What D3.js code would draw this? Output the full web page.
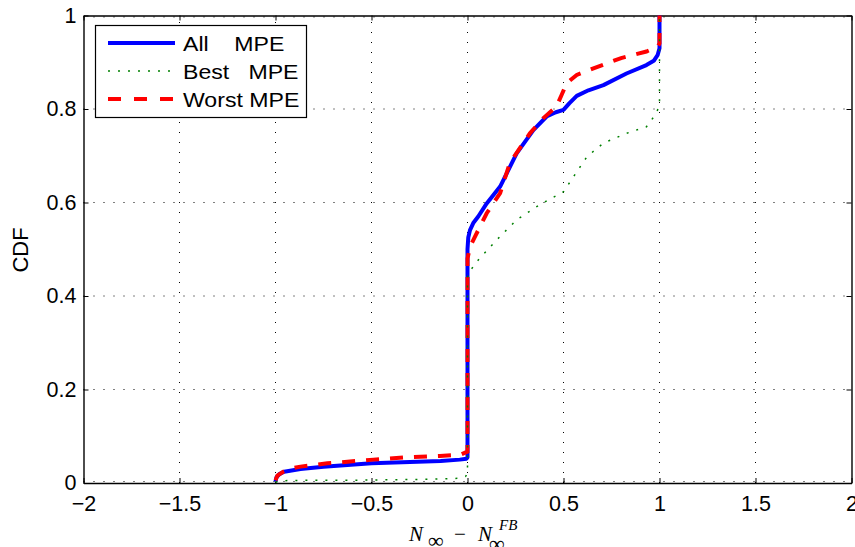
<!DOCTYPE html>
<html><head><meta charset="utf-8">
<script src="https://cdn.jsdelivr.net/npm/d3@7"></script>
<style>body{margin:0;background:#fff}svg{display:block}</style>
</head><body>
<svg id="c" width="855" height="547"></svg>
<script>
// Data (x = N_inf - N_inf^FB, y = CDF)
const allX   = [-1, -0.995, -0.98, -0.955, -0.87, -0.75, -0.5, -0.3, -0.14, -0.04, -0.005, 0, 0, 0.004, 0.013, 0.03, 0.056, 0.1, 0.17, 0.256, 0.343, 0.412, 0.46, 0.5, 0.53, 0.569, 0.63, 0.708, 0.828, 0.932, 0.97, 0.99, 1, 1];
const allY   = [0.003, 0.012, 0.019, 0.024, 0.03, 0.035, 0.042, 0.045, 0.047, 0.05, 0.052, 0.055, 0.50, 0.525, 0.541, 0.556, 0.57, 0.598, 0.634, 0.705, 0.755, 0.784, 0.793, 0.798, 0.812, 0.828, 0.84, 0.851, 0.876, 0.894, 0.903, 0.915, 0.93, 1];
const bestX  = [-1, -0.95, -0.8, -0.6, -0.4, -0.2, -0.05, -0.01, 0, 0, 0.004, 0.056, 0.152, 0.256, 0.375, 0.5, 0.552, 0.622, 0.708, 0.828, 0.932, 0.984, 1, 1];
const bestY  = [0.002, 0.005, 0.006, 0.006, 0.007, 0.008, 0.01, 0.014, 0.02, 0.44, 0.449, 0.477, 0.52, 0.563, 0.595, 0.623, 0.655, 0.698, 0.727, 0.748, 0.762, 0.791, 0.81, 1];
const worstX = [-1, -0.99, -0.96, -0.92, -0.87, -0.73, -0.49, -0.32, -0.144, -0.04, 0, 0, 0.013, 0.039, 0.1, 0.17, 0.22, 0.325, 0.394, 0.463, 0.49, 0.516, 0.569, 0.656, 0.8, 0.932, 0.99, 1, 1];
const worstY = [0.006, 0.016, 0.024, 0.031, 0.035, 0.042, 0.05, 0.055, 0.058, 0.06, 0.067, 0.48, 0.505, 0.527, 0.577, 0.62, 0.684, 0.748, 0.78, 0.805, 0.83, 0.855, 0.873, 0.887, 0.909, 0.923, 0.933, 0.94, 1];
const xTicks = [-2, -1.5, -1, -0.5, 0, 0.5, 1, 1.5, 2];
const yTicks = [0, 0.2, 0.4, 0.6, 0.8, 1];
const legendLabels = ["All    MPE", "Best   MPE", "Worst MPE"];

const svg = d3.select("#c");
const L = 83.5, R = 851.5, T = 15.5, B = 483;
const x = d3.scaleLinear().domain([-2, 2]).range([L, R]);
const y = d3.scaleLinear().domain([0, 1]).range([B, T]);
const font = "'Liberation Sans', Arial, Helvetica, sans-serif";
const fmt = d => (d === 0 ? "0" : (d < 0 ? "\u2212" + String(Math.abs(d)) : String(d)));

// grid
const grid = svg.append("g");
grid.selectAll("line.gx").data(xTicks.slice(1, -1)).join("line")
  .attr("x1", d => x(d)).attr("x2", d => x(d)).attr("y1", B).attr("y2", T)
  .attr("stroke", "#000").attr("stroke-width", 1).attr("stroke-dasharray", "1,9");
grid.selectAll("line.gy").data(yTicks.slice(1, -1)).join("line")
  .attr("y1", d => y(d)).attr("y2", d => y(d)).attr("x1", L).attr("x2", R)
  .attr("stroke", "#000").attr("stroke-width", 1).attr("stroke-dasharray", "1,9");
grid.append("line").attr("x1", L).attr("x2", R).attr("y1", y(0)-1.5).attr("y2", y(0)-1.5)
  .attr("stroke", "#000").attr("stroke-dasharray", "1,9");
grid.append("line").attr("x1", L).attr("x2", R).attr("y1", y(1)+1.5).attr("y2", y(1)+1.5)
  .attr("stroke", "#000").attr("stroke-dasharray", "1,9");

// axes
const axB = svg.append("g").attr("transform", `translate(0,${B})`)
  .call(d3.axisBottom(x).tickValues(xTicks).tickFormat(fmt).tickSizeInner(-5).tickSizeOuter(0).tickPadding(13));
const axT = svg.append("g").attr("transform", `translate(0,${T})`)
  .call(d3.axisTop(x).tickValues(xTicks).tickFormat("").tickSizeInner(-5).tickSizeOuter(0));
const axL = svg.append("g").attr("transform", `translate(${L},0)`)
  .call(d3.axisLeft(y).tickValues(yTicks).tickFormat(d => String(d)).tickSizeInner(-5).tickSizeOuter(0).tickPadding(7));
const axR = svg.append("g").attr("transform", `translate(${R},0)`)
  .call(d3.axisRight(y).tickValues(yTicks).tickFormat("").tickSizeInner(-5).tickSizeOuter(0));
[axB, axT, axL, axR].forEach(a => {
  a.selectAll("path").attr("stroke", "#000").attr("stroke-width", 1.4);
  a.selectAll("line").attr("stroke", "#000").attr("stroke-width", 1);
  a.selectAll("text").attr("font-family", font).attr("font-size", 21.5).attr("fill", "#000");
});
axB.selectAll("text").attr("dy", "0.71em");

// curves
const line = d3.line().x(d => x(d[0])).y(d => y(d[1]));
const zip = (a, b) => a.map((v, i) => [v, b[i]]);
svg.append("path").datum(zip(allX, allY)).attr("d", line)
  .attr("fill", "none").attr("stroke", "#0000ff").attr("stroke-width", 4).attr("stroke-linejoin", "round");
svg.append("path").datum(zip(worstX, worstY)).attr("d", line)
  .attr("fill", "none").attr("stroke", "#ff0000").attr("stroke-width", 4).attr("stroke-dasharray", "13,11");
svg.append("path").datum(zip(bestX, bestY)).attr("d", line)
  .attr("fill", "none").attr("stroke", "#008000").attr("stroke-width", 1.5).attr("stroke-dasharray", "2,8");

// legend
const lg = svg.append("g");
lg.append("rect").attr("x", 95.5).attr("y", 25.5).attr("width", 211).attr("height", 92)
  .attr("fill", "#fff").attr("stroke", "#000").attr("stroke-width", 1.2);
const styles = [
  {c: "#0000ff", w: 4, d: null},
  {c: "#008000", w: 1.5, d: "2,8"},
  {c: "#ff0000", w: 4, d: "13,13"}
];
const rowsY = [43, 71, 99];
legendLabels.forEach((t, i) => {
  lg.append("line").attr("x1", 108).attr("x2", 175).attr("y1", rowsY[i]).attr("y2", rowsY[i])
    .attr("stroke", styles[i].c).attr("stroke-width", styles[i].w).attr("stroke-dasharray", styles[i].d);
  lg.append("text").attr("transform", `translate(183,${rowsY[i]}) scale(1.1,1)`).attr("dy", "0.36em")
    .attr("font-family", font).attr("font-size", 21)
    .attr("xml:space", "preserve").style("white-space", "pre").text(t);
});

// axis labels
svg.append("text").attr("transform", "translate(28,250) rotate(-90)")
  .attr("text-anchor", "middle").attr("font-family", font).attr("font-size", 22).text("CDF");
const serif = "'Liberation Serif', 'DejaVu Serif', serif";
const xl = svg.append("text").attr("y", 541).attr("font-family", serif).attr("font-size", 21);
xl.append("tspan").attr("x", 409).attr("font-style", "italic").text("N");
xl.append("tspan").attr("x", 428).attr("y", 548).attr("font-size", 22).text("\u221E");
xl.append("tspan").attr("x", 454).attr("y", 541).text("\u2212");
xl.append("tspan").attr("x", 478).attr("font-style", "italic").text("N");
xl.append("tspan").attr("x", 499).attr("y", 530).attr("font-size", 15).attr("font-style", "italic").text("FB");
xl.append("tspan").attr("x", 489).attr("y", 551).attr("font-size", 22).text("\u221E");
</script>
</body></html>
